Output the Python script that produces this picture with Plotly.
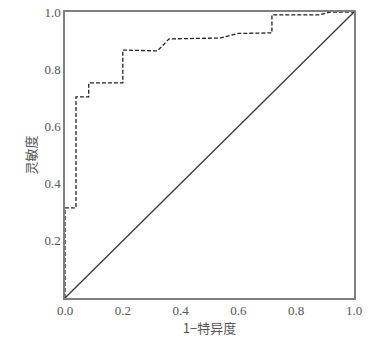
import plotly.graph_objects as go

# ROC curve points (1-specificity, sensitivity)
fpr = [0.0, 0.0, 0.038, 0.038, 0.082, 0.082, 0.2, 0.2, 0.32, 0.36, 0.536, 0.6, 0.716, 0.716, 0.882, 0.917, 1.0]
tpr = [0.0, 0.315, 0.315, 0.703, 0.703, 0.752, 0.752, 0.867, 0.864, 0.906, 0.909, 0.925, 0.927, 0.99, 0.99, 1.0, 1.0]
ref_x = [0.0, 1.0]
ref_y = [0.0, 1.0]
x_tick_vals = [0.0, 0.2, 0.4, 0.6, 0.8, 1.0]
x_tick_text = ["0.0", "0.2", "0.4", "0.6", "0.8", "1.0"]
y_tick_vals = [0.2, 0.4, 0.6, 0.8, 1.0]
y_tick_text = ["0.2", "0.4", "0.6", "0.8", "1.0"]

fig = go.Figure()
fig.add_trace(go.Scatter(x=ref_x, y=ref_y, mode="lines",
                         line=dict(color="#3a3a3a", width=1.3), showlegend=False))
fig.add_trace(go.Scatter(x=fpr, y=tpr, mode="lines",
                         line=dict(color="#222222", width=1.3, dash="4px,2px"),
                         showlegend=False))

axis_common = dict(range=[0, 1], showgrid=False, zeroline=False, showline=True, mirror=True,
                   linecolor="#808080", linewidth=1.5, ticks="", automargin=False,
                   tickfont=dict(family="Liberation Serif", size=13, color="#555555"))

fig.update_xaxes(**axis_common, tickvals=x_tick_vals, ticktext=x_tick_text,
                 title=dict(text="1−特异度", font=dict(family="Noto Sans CJK SC", size=13, color="#555555"),
                            standoff=5))
fig.update_yaxes(**axis_common, tickvals=y_tick_vals, ticktext=y_tick_text,
                 title=dict(text="灵敏度", font=dict(family="Noto Sans CJK SC", size=13, color="#555555"),
                            standoff=5))

fig.update_layout(width=389, height=346, margin=dict(l=65, r=35, t=12, b=48),
                  plot_bgcolor="white", paper_bgcolor="white")

fig.write_html("out.html", config={"displayModeBar": False},
               post_script="document.body.style.margin='0';")
